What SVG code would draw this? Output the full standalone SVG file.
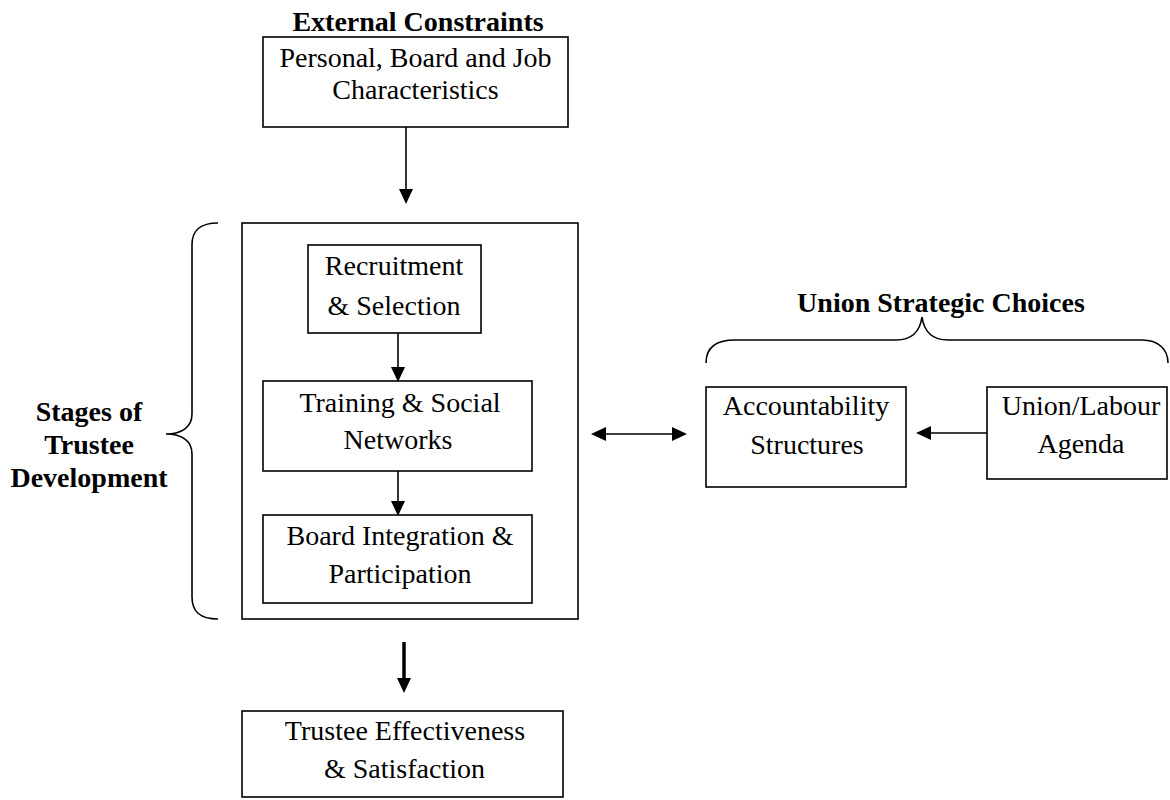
<svg xmlns="http://www.w3.org/2000/svg" width="1170" height="800" viewBox="0 0 1170 800">
<style>
  .box { fill: #ffffff; stroke: #000000; stroke-width: 1.6; }
  .t { font-family: "Liberation Serif", "Times New Roman", serif; font-size: 28px; fill: #000000; text-anchor: middle; }
  .b { font-weight: bold; }
  .ln { stroke: #000000; stroke-width: 1.6; fill: none; }
  .thick { stroke: #000000; stroke-width: 3.5; fill: none; }
  .brace { stroke: #000000; stroke-width: 1.6; fill: none; }
</style>
<defs>
  <marker id="ah" markerUnits="userSpaceOnUse" markerWidth="15" markerHeight="15" refX="0" refY="7" orient="auto-start-reverse" viewBox="0 0 15 14">
    <path d="M0,0 L15,7 L0,14 Z" fill="#000000"/>
  </marker>
</defs>
<rect width="1170" height="800" fill="#ffffff"/>

<g id="title-external">
  <text class="t b" x="418" y="31">External Constraints</text>
</g>
<g id="node-personal">
  <rect class="box" x="263" y="37" width="305" height="90"/>
  <text class="t" x="415.5" y="67">Personal, Board and Job</text>
  <text class="t" x="415.5" y="99">Characteristics</text>
</g>

<g id="node-stages">
  <rect class="box" x="242" y="223" width="336" height="396"/>
</g>
<g id="node-recruitment">
  <rect class="box" x="308" y="245" width="173" height="88"/>
  <text class="t" x="394" y="275">Recruitment</text>
  <text class="t" x="394" y="315">&amp; Selection</text>
</g>
<g id="node-training">
  <rect class="box" x="263" y="381" width="269" height="90"/>
  <text class="t" x="400" y="412">Training &amp; Social</text>
  <text class="t" x="398" y="449">Networks</text>
</g>
<g id="node-board">
  <rect class="box" x="263" y="515" width="269" height="88"/>
  <text class="t" x="400" y="545">Board Integration &amp;</text>
  <text class="t" x="400" y="583">Participation</text>
</g>

<g id="label-stages">
  <path class="brace" d="M218,223 C200,223 192,230 192,245 L192,414 C192,427 182,434 166,434 C182,434 192,441 192,454 L192,597 C192,612 200,619 218,619"/>
  <text class="t b" x="89" y="421">Stages of</text>
  <text class="t b" x="89" y="454">Trustee</text>
  <text class="t b" x="89" y="487">Development</text>
</g>

<g id="label-union">
  <path class="brace" d="M706,363 C706,348 715,340 735,340 L896,340 C912,340 920,331 922,317 C924,331 932,340 948,340 L1142,340 C1158,340 1168,349 1168,363"/>
  <text class="t b" x="941" y="312">Union Strategic Choices</text>
</g>
<g id="node-accountability">
  <rect class="box" x="706" y="387" width="200" height="100"/>
  <text class="t" x="806" y="415">Accountability</text>
  <text class="t" x="807" y="454">Structures</text>
</g>
<g id="node-agenda">
  <rect class="box" x="987" y="387" width="180" height="92"/>
  <text class="t" x="1081" y="415">Union/Labour</text>
  <text class="t" x="1081" y="453">Agenda</text>
</g>

<g id="node-effectiveness">
  <rect class="box" x="242" y="711" width="321" height="86"/>
  <text class="t" x="405" y="740">Trustee Effectiveness</text>
  <text class="t" x="404.5" y="778">&amp; Satisfaction</text>
</g>

<g id="connectors">
  <line class="ln" x1="406" y1="127" x2="406" y2="189" marker-end="url(#ah)"/>
  <line class="ln" x1="398" y1="333" x2="398" y2="367" marker-end="url(#ah)"/>
  <line class="ln" x1="398" y1="471" x2="398" y2="501" marker-end="url(#ah)"/>
  <line class="ln" x1="606" y1="434" x2="672" y2="434" marker-start="url(#ah)" marker-end="url(#ah)"/>
  <line class="ln" x1="987" y1="433" x2="931" y2="433" marker-end="url(#ah)"/>
  <line class="thick" x1="404" y1="642" x2="404" y2="678" marker-end="url(#ah)"/>
</g>
</svg>
